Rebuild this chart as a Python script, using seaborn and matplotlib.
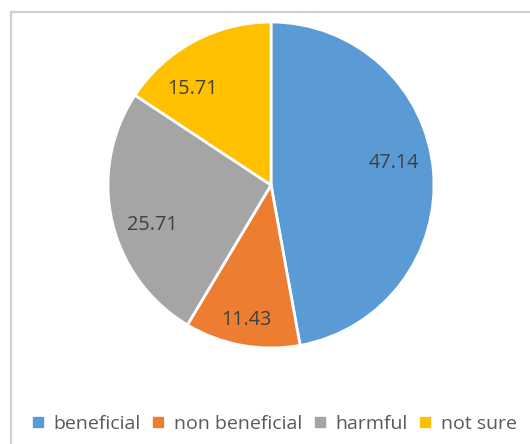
import numpy as np
import matplotlib
matplotlib.use("Agg")
import matplotlib.pyplot as plt
import seaborn as sns
from matplotlib.patches import Rectangle
from matplotlib.lines import Line2D

categories = ["beneficial", "non beneficial", "harmful", "not sure"]
values = [47.14, 11.43, 25.71, 15.71]
colors = ["#5B9BD5", "#ED7D31", "#A5A5A5", "#FFC000"]
# radial placement of each value label (fraction of radius) and angular nudge (deg)
label_radius = [0.766, 0.84, 0.77, 0.76]
label_nudge = [5.0, 0.0, 5.8, 10.9]

sns.set_theme(style="white")
plt.rcParams["font.family"] = ["Open Sans", "DejaVu Sans"]

fig = plt.figure(figsize=(5.30, 4.44), dpi=100)
fig.patch.set_facecolor("white")

# light frame around the chart area
fig.patches.append(Rectangle((11 / 530, -0.1), 1.2, (444 - 12) / 444 + 0.1,
                             transform=fig.transFigure, fill=False,
                             edgecolor="#D0D0D0", linewidth=1.6, zorder=0))

ax = fig.add_axes([108 / 530, 96 / 444, 326 / 530, 326 / 444])
wedges, _ = ax.pie(values, colors=colors, startangle=90, counterclock=False,
                   radius=1.0,
                   wedgeprops=dict(edgecolor="white", linewidth=2.0))
ax.set_xlim(-1.0, 1.0)
ax.set_ylim(-1.0, 1.0)
ax.set_aspect("equal")
ax.axis("off")

for w, v, r, nd in zip(wedges, values, label_radius, label_nudge):
    ang = np.deg2rad((w.theta1 + w.theta2) / 2 + nd)
    ax.text(r * np.cos(ang), r * np.sin(ang), f"{v:.2f}", ha="center", va="center",
            fontsize=14.3, color="#404040")

handles = [Line2D([0], [0], marker="s", linestyle="none", markersize=7.5,
                  markerfacecolor=c, markeredgecolor=c) for c in colors]
fig.legend(handles, categories, loc="center", bbox_to_anchor=(274 / 530, 1 - 424 / 444),
           ncol=4, frameon=False, fontsize=14, labelcolor="#595959",
           handlelength=0.7, handletextpad=0.45, columnspacing=0.55)

fig.savefig("out.png", dpi=100, facecolor="white")
